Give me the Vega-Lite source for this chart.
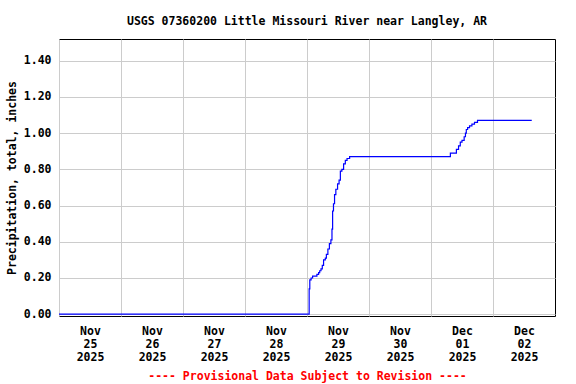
{
  "$schema": "https://vega.github.io/schema/vega-lite/v6.json",
  "autosize": "none",
  "padding": {"left": 59, "top": 39, "right": 21, "bottom": 68},
  "width": 496,
  "height": 277,
  "background": "white",
  "title": {
    "text": "USGS 07360200 Little Missouri River near Langley, AR",
    "font": "DejaVu Sans Mono",
    "fontSize": 11.5,
    "fontWeight": "bold",
    "color": "black",
    "anchor": "middle",
    "frame": "group",
    "offset": 12
  },
  "config": {
    "view": {"stroke": "black", "strokeWidth": 1},
    "axis": {
      "labelFont": "DejaVu Sans Mono",
      "labelFontSize": 11.5,
      "labelFontWeight": "bold",
      "labelColor": "black",
      "titleFont": "DejaVu Sans Mono",
      "titleFontSize": 11.5,
      "titleFontWeight": "bold",
      "titleColor": "black",
      "domain": false,
      "ticks": false,
      "gridColor": "#cccccc",
      "gridWidth": 1,
      "gridOpacity": 1
    }
  },
  "data": {
    "values": [
      {"t": "2025-11-25 00:00", "p": 0.0},
      {"t": "2025-11-29 00:50", "p": 0.14},
      {"t": "2025-11-29 01:05", "p": 0.19},
      {"t": "2025-11-29 01:35", "p": 0.20},
      {"t": "2025-11-29 02:10", "p": 0.21},
      {"t": "2025-11-29 03:50", "p": 0.22},
      {"t": "2025-11-29 04:30", "p": 0.23},
      {"t": "2025-11-29 04:55", "p": 0.24},
      {"t": "2025-11-29 05:25", "p": 0.25},
      {"t": "2025-11-29 05:55", "p": 0.27},
      {"t": "2025-11-29 06:25", "p": 0.30},
      {"t": "2025-11-29 07:05", "p": 0.31},
      {"t": "2025-11-29 07:30", "p": 0.33},
      {"t": "2025-11-29 08:05", "p": 0.36},
      {"t": "2025-11-29 08:40", "p": 0.39},
      {"t": "2025-11-29 09:15", "p": 0.41},
      {"t": "2025-11-29 09:40", "p": 0.47},
      {"t": "2025-11-29 09:55", "p": 0.57},
      {"t": "2025-11-29 10:15", "p": 0.61},
      {"t": "2025-11-29 10:40", "p": 0.66},
      {"t": "2025-11-29 11:10", "p": 0.69},
      {"t": "2025-11-29 11:50", "p": 0.72},
      {"t": "2025-11-29 12:25", "p": 0.74},
      {"t": "2025-11-29 12:55", "p": 0.79},
      {"t": "2025-11-29 13:30", "p": 0.80},
      {"t": "2025-11-29 14:10", "p": 0.83},
      {"t": "2025-11-29 14:50", "p": 0.85},
      {"t": "2025-11-29 15:30", "p": 0.86},
      {"t": "2025-11-29 16:30", "p": 0.87},
      {"t": "2025-12-01 07:30", "p": 0.89},
      {"t": "2025-12-01 09:50", "p": 0.91},
      {"t": "2025-12-01 10:40", "p": 0.93},
      {"t": "2025-12-01 11:20", "p": 0.95},
      {"t": "2025-12-01 12:00", "p": 0.96},
      {"t": "2025-12-01 12:50", "p": 0.98},
      {"t": "2025-12-01 13:20", "p": 1.00},
      {"t": "2025-12-01 13:40", "p": 1.02},
      {"t": "2025-12-01 14:10", "p": 1.03},
      {"t": "2025-12-01 14:55", "p": 1.04},
      {"t": "2025-12-01 15:50", "p": 1.05},
      {"t": "2025-12-01 16:50", "p": 1.06},
      {"t": "2025-12-01 18:00", "p": 1.07},
      {"t": "2025-12-02 15:00", "p": 1.07}
    ],
    "format": {"parse": {"t": "utc:'%Y-%m-%d %H:%M'"}}
  },
  "mark": {"type": "line", "interpolate": "step-after", "color": "#0000ff", "strokeWidth": 1.2, "clip": true},
  "encoding": {
    "x": {
      "field": "t",
      "type": "temporal",
      "scale": {
        "type": "utc",
        "domain": [
          {"year": 2025, "month": 11, "date": 25, "utc": true},
          {"year": 2025, "month": 12, "date": 3, "utc": true}
        ],
        "nice": false
      },
      "axis": {
        "values": [
          {"year": 2025, "month": 11, "date": 25, "utc": true},
          {"year": 2025, "month": 11, "date": 26, "utc": true},
          {"year": 2025, "month": 11, "date": 27, "utc": true},
          {"year": 2025, "month": 11, "date": 28, "utc": true},
          {"year": 2025, "month": 11, "date": 29, "utc": true},
          {"year": 2025, "month": 11, "date": 30, "utc": true},
          {"year": 2025, "month": 12, "date": 1, "utc": true},
          {"year": 2025, "month": 12, "date": 2, "utc": true}
        ],
        "labelExpr": "[utcFormat(datum.value, '%b'), utcFormat(datum.value, '%d'), utcFormat(datum.value, '%Y')]",
        "labelOffset": 31,
        "labelAlign": "center",
        "labelLineHeight": 13,
        "labelPadding": 9,
        "labelOverlap": false,
        "labelFlush": false,
        "labelBound": false,
        "title": "---- Provisional Data Subject to Revision ----",
        "titleColor": "#ff0000",
        "titlePadding": 8
      }
    },
    "y": {
      "field": "p",
      "type": "quantitative",
      "scale": {"domain": [-0.01, 1.52], "nice": false, "zero": false},
      "axis": {
        "values": [0, 0.2, 0.4, 0.6, 0.8, 1.0, 1.2, 1.4],
        "format": ".2f",
        "labelPadding": 8,
        "title": "Precipitation, total, inches",
        "titlePadding": 6
      }
    }
  }
}
